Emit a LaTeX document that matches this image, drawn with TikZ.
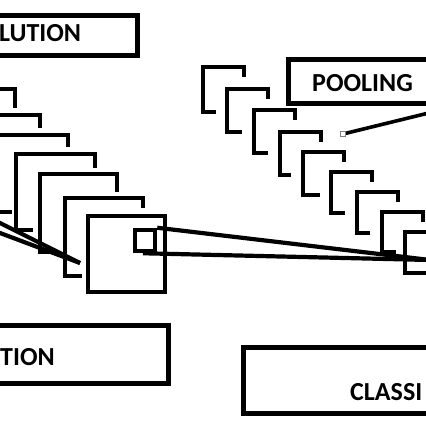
\documentclass[tikz,border=0pt]{standalone}
\usepackage{fontspec}
\setmainfont{Carlito}
\begin{document}
\begin{tikzpicture}[x=1pt,y=-1pt,line join=miter,
  boxline/.style={draw=black,line width=5pt},
  mapline/.style={draw=black,line width=4pt},
  linkline/.style={draw=black,line width=4.2pt},
  label/.style={inner sep=0pt,anchor=base west,font=\fontsize{26}{30}\selectfont\bfseries}]
\useasboundingbox (0,0) rectangle (426,426);
\fill[white] (0,0) rectangle (426,426);
\clip (0,0) rectangle (426,426);
% label boxes
\draw[boxline] (-10,15) rectangle (137,55);
\node[label] (conv) at (-1,41) {LUTION};
\draw[boxline] (-10,325) rectangle (168,383);
\node[label] (act) at (0,365) {TION};
\draw[boxline] (288,59) rectangle (445,103);
\node[label] (pool) at (312,91) {POOLING};
\draw[boxline] (243,347) rectangle (445,413);
\node[label] (cls) at (350,400) {CLASSI};
% convolution feature maps
\foreach \l/\t/\r/\k/\b/\f in {-63/89/15/108/166/-46, -38/115/40/128/192/-21, -10/135/68/147/212/12, 16/154/95/168/230/33, 40/174/117/192/252/57, 65/198/143/208/276/82}
  \draw[mapline] (\f,\b) -- (\l,\b) -- (\l,\t) -- (\r,\t) -- (\r,\k);
% front map with window
\draw[mapline,fill=white] (88,216) rectangle (165,292);
\node[draw=black,line width=4.5pt,minimum width=20pt,minimum height=21pt,inner sep=0pt] (win) at (145,240.5) {};
% pooling maps
\foreach \l/\t/\h/\f in {203/67/45/13, 227/89/43/15, 254/110/43/14, 280/132/43/11, 303/152/43/17, 331/172/41/14, 357/192/41/13, 382/212/40/14, 405/232/41/30}
  \draw[mapline] ({\l+\f},{\t+\h}) -- (\l,{\t+\h}) -- (\l,\t) -- ({\l+41},\t) -- ({\l+41},{\t+10});
% connectors
\coordinate (in1) at (-40,203);
\coordinate (in2) at (-40,218);
\coordinate (cell) at (80,263);
\draw[linkline] (in1) -- (cell);
\draw[linkline] (in2) -- (cell);
\coordinate (pt) at (430,260);
\draw[linkline] (win.north east) -- (pt);
\draw[linkline] ([xshift=-2pt]win.south) -- (pt);
\coordinate (hnd) at (343,134);
\coordinate (pend) at (445,109);
\draw[linkline,line width=3.6pt] (hnd) -- (pend);
\draw[gray,line width=0.8pt,fill=white] ([shift={(-2.2,-2.2)}]hnd) rectangle ([shift={(2.2,2.2)}]hnd);
\end{tikzpicture}
\end{document}
